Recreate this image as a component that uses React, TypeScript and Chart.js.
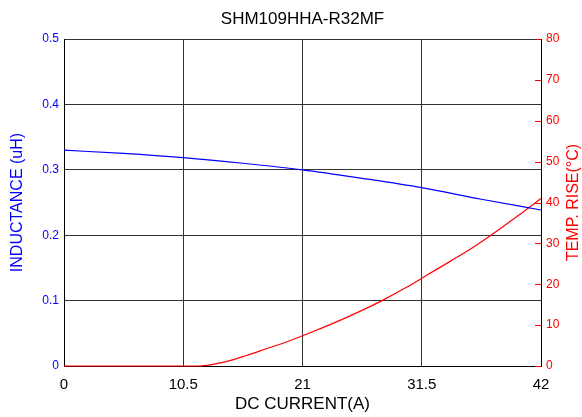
import React, { useEffect, useRef } from "react";
import { Chart, registerables } from "chart.js";

Chart.register(...registerables);

const chartTitle = "SHM109HHA-R32MF";
const xTitle = "DC CURRENT(A)";
const leftTitle = "INDUCTANCE (uH)";
const rightTitle = "TEMP. RISE(°C)";

const currentL = [0, 5.25, 10.5, 15.75, 21, 26.25, 31.5, 36.75, 42];
const inductance = [0.33, 0.325, 0.3185, 0.31, 0.3, 0.287, 0.2727, 0.255, 0.2385];

const currentT = [0, 12, 14, 16, 18, 20, 22, 24, 26, 28, 30, 32, 34, 36, 38, 40, 42];
const tempRise = [0, 0, 0.9, 2.5, 4.4, 6.3, 8.5, 10.8, 13.3, 16.0, 19.0, 22.3, 25.6, 29.0, 32.8, 36.8, 41.0];

const FONT = "'Liberation Sans', Arial, sans-serif";

const extrasPlugin = {
  id: "extras",
  afterDatasetsDraw(chart: any) {
    const { ctx, chartArea } = chart;
    const y2 = chart.scales.y2;
    ctx.save();
    ctx.strokeStyle = "red";
    ctx.lineWidth = 1;
    y2.ticks.forEach((t: any) => {
      const py = Math.round(y2.getPixelForValue(t.value)) + 0.5;
      ctx.beginPath();
      ctx.moveTo(chartArea.right - 6, py);
      ctx.lineTo(chartArea.right, py);
      ctx.stroke();
    });
    ctx.restore();
  },
  afterDraw(chart: any) {
    const { ctx, chartArea } = chart;
    ctx.save();
    ctx.fillStyle = "#000";
    ctx.font = `17px ${FONT}`;
    ctx.textAlign = "center";
    ctx.textBaseline = "middle";
    ctx.fillText(chartTitle, (chartArea.left + chartArea.right) / 2, 19);
    ctx.restore();

    ctx.save();
    ctx.fillStyle = "red";
    ctx.font = `16px ${FONT}`;
    ctx.textAlign = "center";
    ctx.textBaseline = "middle";
    ctx.translate(574, (chartArea.top + chartArea.bottom) / 2);
    ctx.rotate(-Math.PI / 2);
    ctx.fillText(rightTitle, 0, 0);
    ctx.restore();
  },
};

export default function App() {
  const ref = useRef<HTMLCanvasElement>(null);
  useEffect(() => {
    if (!ref.current) return;
    const chart = new Chart(ref.current, {
      type: "line",
      data: {
        datasets: [
          {
            label: "Inductance",
            data: currentL.map((x, i) => ({ x, y: inductance[i] })),
            borderColor: "blue",
            borderWidth: 1.2,
            pointRadius: 0,
            cubicInterpolationMode: "monotone",
            yAxisID: "y",
            clip: 4,
          },
          {
            label: "Temp rise",
            data: currentT.map((x, i) => ({ x, y: tempRise[i] })),
            borderColor: "red",
            borderWidth: 1.2,
            pointRadius: 0,
            cubicInterpolationMode: "monotone",
            yAxisID: "y2",
            clip: 4,
          },
        ],
      },
      options: {
        animation: false,
        responsive: false,
        devicePixelRatio: 1,
        layout: { padding: { top: 39, left: 0, right: 0, bottom: 0 } },
        plugins: {
          legend: { display: false },
          tooltip: { enabled: false },
          title: { display: false },
        },
        scales: {
          x: {
            type: "linear",
            min: 0,
            max: 42,
            afterBuildTicks: (s: any) => {
              s.ticks = [0, 10.5, 21, 31.5, 42].map((v) => ({ value: v }));
            },
            afterFit: (s: any) => {
              s.height = 51;
            },
            grid: { color: "#333", lineWidth: 1, drawTicks: false },
            border: { color: "#000" },
            ticks: {
              color: "#000",
              font: { family: FONT, size: 15 },
              padding: 10,
              maxRotation: 0,
              callback: (v: any) => String(v),
            },
            title: {
              display: true,
              text: xTitle,
              color: "#000",
              font: { family: FONT, size: 17, lineHeight: 1.2 },
              padding: { top: 0, bottom: 2 },
            },
          },
          y: {
            position: "left",
            min: 0,
            max: 0.5,
            ticks: {
              stepSize: 0.1,
              color: "blue",
              font: { family: FONT, size: 12 },
              padding: 5,
              callback: (v: any) => String(Math.round(v * 10) / 10),
            },
            afterFit: (s: any) => {
              s.width = 64;
            },
            grid: { color: "#333", lineWidth: 1, drawTicks: false },
            border: { color: "#000" },
            title: {
              display: true,
              text: leftTitle,
              color: "blue",
              font: { family: FONT, size: 16, lineHeight: 1.2 },
              padding: { top: 8, bottom: 0 },
            },
          },
          y2: {
            position: "right",
            min: 0,
            max: 80,
            ticks: {
              stepSize: 10,
              color: "red",
              font: { family: FONT, size: 12 },
              padding: 5,
            },
            afterFit: (s: any) => {
              s.width = 41;
            },
            grid: { drawOnChartArea: false, drawTicks: false },
            border: { color: "#000" },
          },
        },
      },
      plugins: [extrasPlugin],
    } as any);
    return () => chart.destroy();
  }, []);
  return (
    <div style={{ position: "absolute", left: 0, top: 0, width: 582, height: 417, background: "#fff" }}>
      <canvas ref={ref} width={582} height={417} />
    </div>
  );
}
